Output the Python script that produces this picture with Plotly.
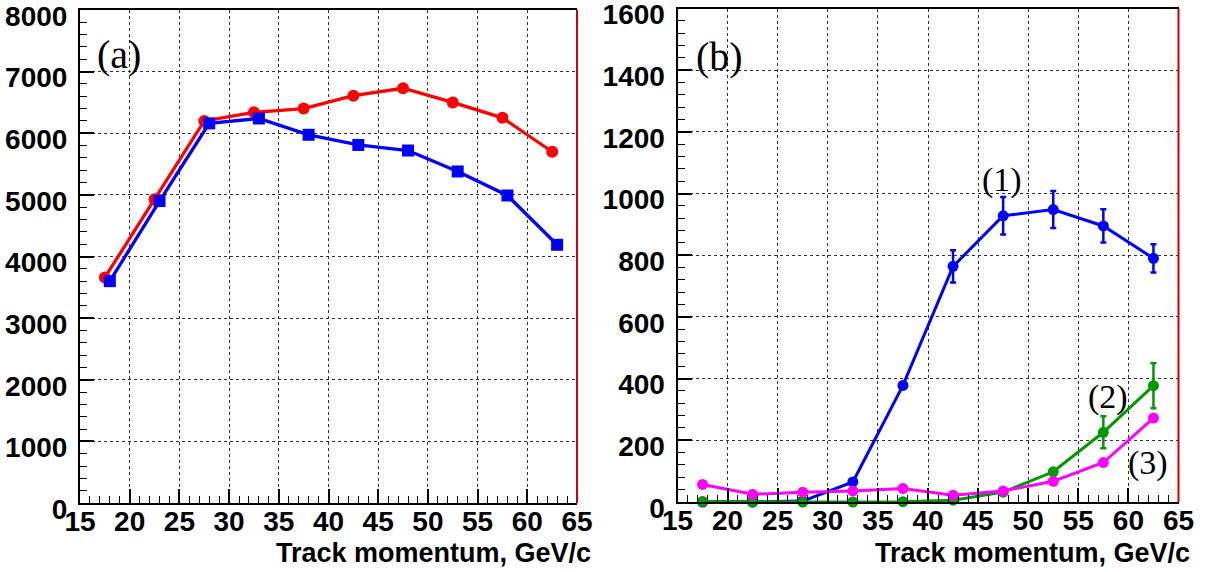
import plotly.graph_objects as go

# ---------------- data ----------------
# panel (a)
a_red_x = [17.5, 22.5, 27.5, 32.5, 37.5, 42.5, 47.5, 52.5, 57.5, 62.5]
a_red_y = [3660, 4930, 6200, 6340, 6400, 6610, 6730, 6500, 6250, 5700]
a_blue_x = [18, 23, 28, 33, 38, 43, 48, 53, 58, 63]
a_blue_y = [3600, 4900, 6160, 6240, 5975, 5810, 5720, 5380, 4990, 4190]

# panel (b)
b_x = [17.5, 22.5, 27.5, 32.5, 37.5, 42.5, 47.5, 52.5, 57.5, 62.5]
b1_y = [0, 0, 3, 65, 378, 764, 928, 948, 895, 790]
b1_err = [0, 0, 0, 0, 0, 52, 61, 60, 54, 46]
b2_y = [2, 0, 0, 0, 1, 6, 32, 98, 226, 377]
b2_err = [0, 0, 0, 0, 0, 0, 0, 0, 52, 73]
b3_y = [57, 25, 32, 36, 44, 22, 36, 67, 128, 272]

x_ticks = [15, 20, 25, 30, 35, 40, 45, 50, 55, 60, 65]
a_y_ticks = [0, 1000, 2000, 3000, 4000, 5000, 6000, 7000, 8000]
b_y_ticks = [0, 200, 400, 600, 800, 1000, 1200, 1400, 1600]
x_title = "Track momentum, GeV/c"

# ---------------- layout helpers ----------------
W, H = 1212, 572


def fx(px):
    return px / W


def fy(py):
    return 1 - py / H


def bold(vals):
    return ["<b>%s</b>" % v for v in vals]


RED = "#ff0000"
BLUE = "#0000ff"
GREEN = "#009900"
MAGENTA = "#ff00ff"

fig = go.Figure()

fig.add_trace(go.Scatter(x=a_red_x, y=a_red_y, mode="lines+markers",
                         line=dict(color=RED, width=3.3),
                         marker=dict(symbol="circle", size=12, color=RED),
                         cliponaxis=False,
                         xaxis="x", yaxis="y", showlegend=False))
fig.add_trace(go.Scatter(x=a_blue_x, y=a_blue_y, mode="lines+markers",
                         line=dict(color=BLUE, width=3.3),
                         marker=dict(symbol="square", size=12, color=BLUE),
                         cliponaxis=False,
                         xaxis="x", yaxis="y", showlegend=False))

fig.add_trace(go.Scatter(x=b_x, y=b1_y, mode="lines+markers",
                         line=dict(color=BLUE, width=3),
                         marker=dict(symbol="circle", size=11, color=BLUE),
                         error_y=dict(type="data", array=b1_err, visible=True,
                                      color=BLUE, thickness=2.5, width=3),
                         cliponaxis=False,
                         xaxis="x2", yaxis="y2", showlegend=False))
fig.add_trace(go.Scatter(x=b_x, y=b2_y, mode="lines+markers",
                         line=dict(color=GREEN, width=3),
                         marker=dict(symbol="circle", size=11, color=GREEN),
                         error_y=dict(type="data", array=b2_err, visible=True,
                                      color=GREEN, thickness=2.5, width=3),
                         cliponaxis=False,
                         xaxis="x2", yaxis="y2", showlegend=False))
fig.add_trace(go.Scatter(x=b_x, y=b3_y, mode="lines+markers",
                         line=dict(color=MAGENTA, width=3),
                         marker=dict(symbol="circle", size=11, color=MAGENTA),
                         cliponaxis=False,
                         xaxis="x2", yaxis="y2", showlegend=False))

tick_font = dict(family="Liberation Sans, Arial, sans-serif", size=28,
                 color="black")

xcommon = dict(range=[15, 65], tickvals=x_ticks, ticktext=bold(x_ticks),
               ticks="inside", ticklen=14, tickwidth=1.5, tickcolor="black",
               minor=dict(dtick=1, ticks="inside", ticklen=7, tickwidth=1,
                          tickcolor="black", showgrid=False),
               showline=True, linecolor="black", linewidth=2, mirror=True,
               showgrid=True, gridcolor="#333333", griddash="dot", gridwidth=1,
               tickfont=tick_font, zeroline=False, automargin=False,
               ticklabelstandoff=-8,
               ticklabeloverflow="allow", fixedrange=True)
ycommon = dict(ticks="inside", ticklen=14, tickwidth=1.5, tickcolor="black",
               showline=True, linecolor="black", linewidth=2, mirror=False,
               showgrid=True, gridcolor="#333333", griddash="dot", gridwidth=1,
               tickfont=tick_font, zeroline=False, automargin=False,
               ticklabelstandoff=5, ticklabelshift=6,
               ticklabeloverflow="allow", fixedrange=True)

fig.update_layout(
    width=W, height=H,
    margin=dict(l=0, r=0, t=0, b=0),
    paper_bgcolor="white", plot_bgcolor="white",
    xaxis=dict(domain=[fx(80), fx(577)], anchor="y", **xcommon),
    yaxis=dict(domain=[fy(503), fy(10)], anchor="x", range=[0, 8000],
               tickvals=a_y_ticks, ticktext=bold(a_y_ticks),
               minor=dict(dtick=200, ticks="inside", ticklen=7, tickwidth=1,
                          tickcolor="black", showgrid=False),
               **ycommon),
    xaxis2=dict(domain=[fx(677.5), fx(1178.5)], anchor="y2", **xcommon),
    yaxis2=dict(domain=[fy(502), fy(8.5)], anchor="x2", range=[0, 1600],
                tickvals=b_y_ticks, ticktext=bold(b_y_ticks),
                minor=dict(dtick=40, ticks="inside", ticklen=7, tickwidth=1,
                           tickcolor="black", showgrid=False),
                **ycommon),
)

# red right frame edges
for xr, yr in (("x domain", "y domain"), ("x2 domain", "y2 domain")):
    fig.add_shape(type="line", xref=xr, yref=yr, x0=1, x1=1, y0=0, y1=1,
                  line=dict(color="#cc0000", width=2))

title_font = dict(family="Liberation Sans, Arial, sans-serif", size=27,
                  color="black")
for xr in (593, 1192):
    fig.add_annotation(text="<b>%s</b>" % x_title, xref="paper", yref="paper",
                       x=fx(xr), y=fy(553), xanchor="right", yanchor="middle",
                       showarrow=False, font=title_font)

serif = "Liberation Serif, Times New Roman, serif"
labels = [("(a)", 118.5, 55, 40), ("(b)", 719, 56, 40),
          ("(1)", 1002, 180, 34), ("(2)", 1108, 397, 34), ("(3)", 1148, 462.5, 34)]
for txt, px, py, sz in labels:
    fig.add_annotation(text=txt, xref="paper", yref="paper", x=fx(px), y=fy(py),
                       xanchor="center", yanchor="middle", showarrow=False,
                       font=dict(family=serif, size=sz, color="black"))

fig.write_html("out.html")
